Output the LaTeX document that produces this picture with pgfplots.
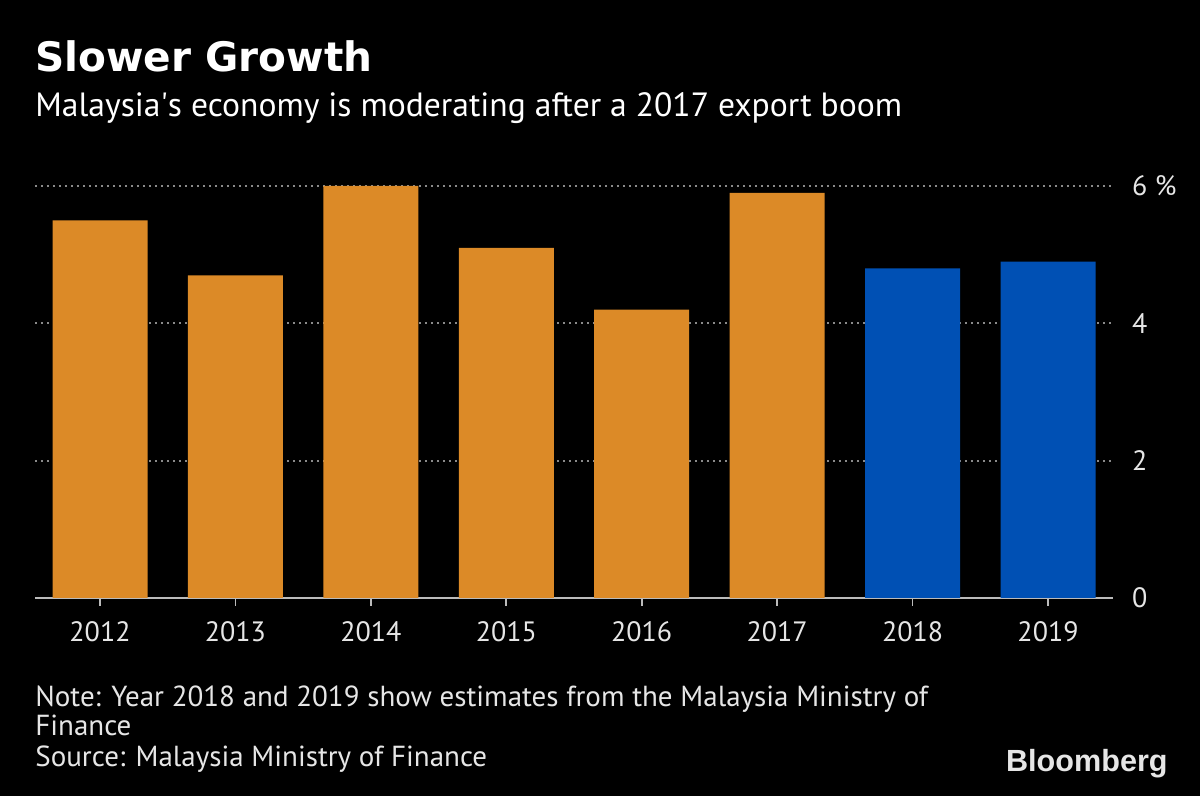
\documentclass[border=0pt]{standalone}
\usepackage{pgfplots}
\pgfplotsset{compat=1.18}
\usepackage{fontspec}
\setmainfont{PT Sans}
\newfontfamily\logofont{Liberation Sans}
\newfontfamily\titlefont{DejaVu Sans}
\definecolor{orangebar}{HTML}{DC8A27}
\definecolor{bluebar}{HTML}{0050B4}
\definecolor{txt}{HTML}{E6E6E6}
\definecolor{gridc}{HTML}{8A8A8A}
\definecolor{basec}{HTML}{BBBBBB}
\begin{document}
\begin{tikzpicture}[x=1pt,y=1pt]
\fill[black] (0,0) rectangle (600,398);
\useasboundingbox (0,0) rectangle (600,398);
\begin{axis}[
  at={(17.5pt,99pt)}, anchor=south west,
  scale only axis, width=539pt, height=206pt,
  xmin=-0.48, xmax=7.48, ymin=0, ymax=6,
  clip=false,
  axis x line*=bottom, axis y line*=right,
  axis line style={-},
  x axis line style={draw=basec, line width=0.8pt},
  y axis line style={draw=none},
  xtick={0,...,7},
  xticklabels={2012,2013,2014,2015,2016,2017,2018,2019},
  ytick={0,2,4,6},
  yticklabels={0,2,4,6 \%},
  tick align=outside,
  xtick style={draw=basec, line width=0.8pt},
  ytick style={draw=none},
  major tick length=4pt,
  ymajorgrids,
  major grid style={draw=gridc, line width=1pt, dash pattern=on 1.1pt off 1.9pt},
  tick label style={text=txt, font=\fontsize{14}{16}\selectfont},
  yticklabel style={anchor=west, xshift=2pt},
  xticklabel style={yshift=-4.5pt},
  /pgf/number format/assume math mode=true,
]
\addplot[ybar, bar width=47.5pt, bar shift=0pt, fill=orangebar, draw=none]
  coordinates {(0,5.5) (1,4.7) (2,6.0) (3,5.1) (4,4.2) (5,5.9)};
\addplot[ybar, bar width=47.5pt, bar shift=0pt, fill=bluebar, draw=none]
  coordinates {(6,4.8) (7,4.9)};
\end{axis}
\node[anchor=base west, inner sep=0pt, text=white, font=\titlefont\fontsize{20.3}{24}\selectfont\bfseries] at (17.5,362) {Slower Growth};
\node[anchor=base west, inner sep=0pt, text=white, font=\fontsize{16.8}{20}\selectfont] at (17.5,339.5) {Malaysia\textquotesingle s economy is moderating after a 2017 export boom};
\node[anchor=base west, inner sep=0pt, text=txt, font=\fontsize{14.5}{17}\selectfont] at (17.5,44.5) {Note: Year 2018 and 2019 show estimates from the Malaysia Ministry of};
\node[anchor=base west, inner sep=0pt, text=txt, font=\fontsize{14.5}{17}\selectfont] at (17.5,30) {Finance};
\node[anchor=base west, inner sep=0pt, text=txt, font=\fontsize{14.5}{17}\selectfont] at (17.5,14.5) {Source: Malaysia Ministry of Finance};
\node[anchor=base east, inner sep=0pt, text=txt, font=\logofont\fontsize{15.3}{18}\selectfont\bfseries] at (584,12) {Bloomberg};
\end{tikzpicture}
\end{document}
